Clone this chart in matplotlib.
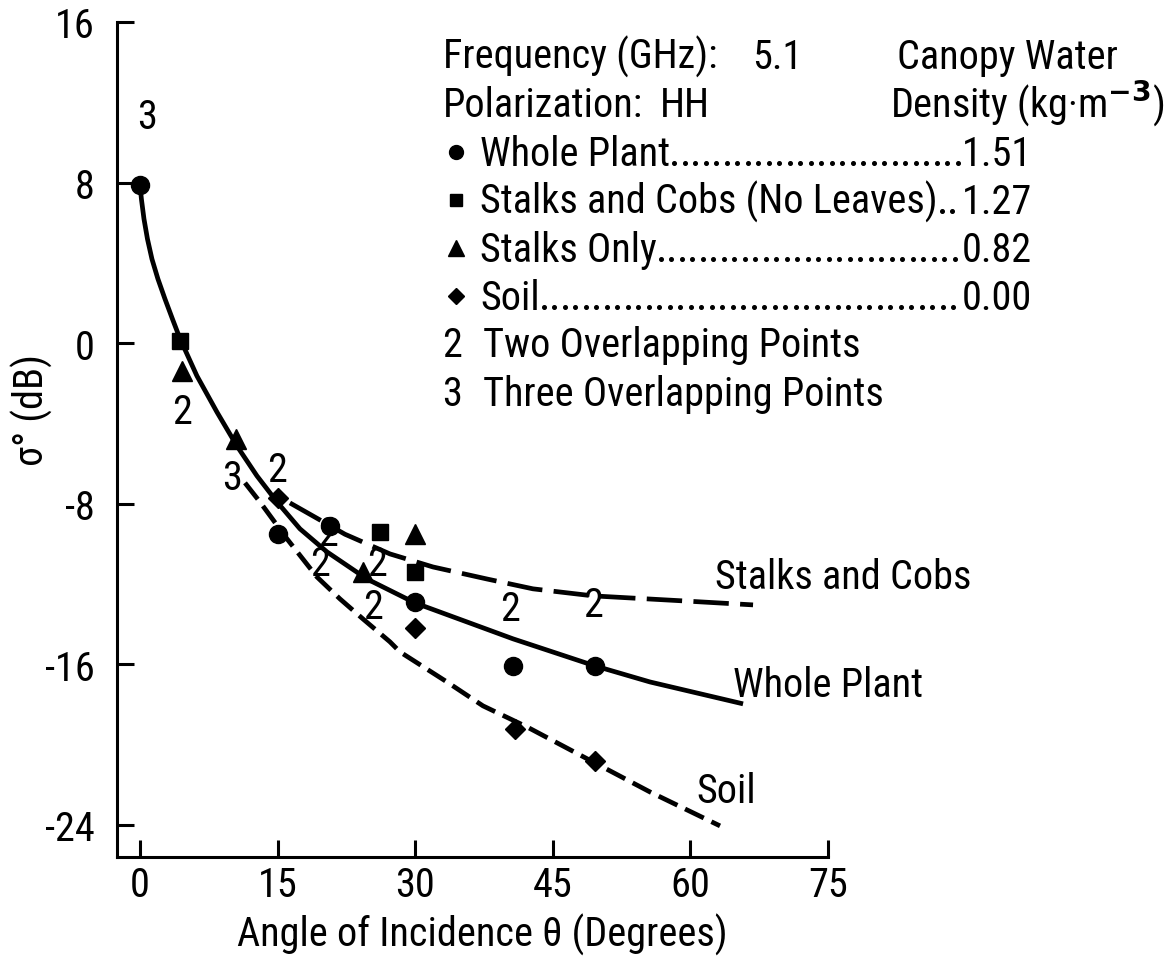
import matplotlib

matplotlib.use("Agg")
import matplotlib.pyplot as plt
import numpy as np
from matplotlib.lines import Line2D

plt.rcParams["font.family"] = ["Roboto Condensed", "IBM Plex Sans Condensed", "DejaVu Sans"]
plt.rcParams["axes.unicode_minus"] = False

# Measured backscatter, angle (deg) vs sigma0 (dB)
whole_x = [0, 15, 20.7, 30, 40.7, 49.6]
whole_y = [7.9, -9.5, -9.1, -12.9, -16.1, -16.1]
cobs_x = [4.4, 26.2, 30]
cobs_y = [0.1, -9.4, -11.4]
stalk_x = [4.6, 10.5, 24.3, 30]
stalk_y = [-1.4, -4.8, -11.4, -9.5]
soil_x = [15, 30, 40.9, 49.6]
soil_y = [-7.7, -14.2, -19.2, -20.8]

# Hand-fitted trend curves
whole_fit_x = [0, 0.16, 0.44, 0.82, 1.31, 1.96, 2.73, 3.54, 4.36, 6.21, 8.39, 10.57, 12.75,
               14.94, 17.44, 20.39, 24.75, 29.98, 35.65, 40.66, 49.6, 55.6, 65.74]
whole_fit_y = [7.93, 7.18, 6.19, 5.19, 4.19, 3.2, 2.2, 1.21, 0.23, -1.63, -3.43, -5.12, -6.61,
               -7.91, -9.25, -10.4, -11.75, -12.94, -13.89, -14.73, -16.08, -16.88, -17.97]
cobs_fit_x = [16.35, 19.63, 22.35, 24.75, 27.25, 31.94, 37.83, 42.84, 49.38, 55.27, 59.2, 66.83]
cobs_fit_y = [-7.96, -8.81, -9.52, -10.0, -10.5, -11.15, -11.75, -12.24, -12.59, -12.74, -12.84, -13.04]
soil_fit_x = [11.45, 13.08, 16.03, 19.3, 21.8, 24.31, 27.25, 28.34, 33.47, 37.39, 42.19, 49.38, 55.6, 63.23]
soil_fit_y = [-6.96, -7.91, -9.75, -11.65, -12.74, -13.74, -14.88, -15.38, -16.88, -18.07, -19.12,
              -20.86, -22.36, -24.05]

# Overlapping-point counts
overlap_x = [0.8, 4.6, 10.0, 15.0, 20.5, 19.6, 25.9, 25.4, 40.3, 49.4]
overlap_y = [11.3, -3.4, -6.7, -6.3, -9.5, -11.0, -11.0, -13.1, -13.2, -13.0]
overlap_n = ["3", "2", "3", "2", "2", "2", "2", "2", "2", "2"]

legend_names = ["Whole Plant", "Stalks and Cobs (No Leaves)", "Stalks Only", "Soil"]
legend_values = ["1.51", "1.27", "0.82", "0.00"]
legend_markers = ["o", "s", "^", "D"]

W, H = 1170, 970
FS = 29


def fx(px):
    return px / W


def fy(py):
    return 1 - py / H


fig = plt.figure(figsize=(W / 100, H / 100), dpi=100)
ax = fig.add_axes([fx(117), fy(858), (828 - 117) / W, (858 - 23) / H])
ax.set_xlim(-2.5, 75)
ax.set_ylim(-25.6, 16)
for s in ("top", "right"):
    ax.spines[s].set_visible(False)
for s in ("left", "bottom"):
    ax.spines[s].set_linewidth(2.2)
ax.set_xticks([0, 15, 30, 45, 60, 75])
ax.set_yticks([-24, -16, -8, 0, 8, 16])
ax.tick_params(direction="in", length=12, width=2.2, labelsize=FS)
ax.tick_params(axis="x", pad=6)
ax.tick_params(axis="y", pad=16)

lw = 3.4
ax.plot(whole_fit_x, whole_fit_y, color="k", lw=lw, solid_capstyle="butt")
ax.plot(cobs_fit_x, cobs_fit_y, color="k", lw=lw, dashes=(7.5, 2.4))
ax.plot(soil_fit_x, soil_fit_y, color="k", lw=lw, dashes=(4.4, 1.8))

ax.plot(whole_x, whole_y, "o", color="k", ms=13, clip_on=False)
ax.plot(cobs_x, cobs_y, "s", color="k", ms=11.5, clip_on=False)
ax.plot(stalk_x, stalk_y, "^", color="k", ms=14, clip_on=False)
ax.plot(soil_x, soil_y, "D", color="k", ms=10.5, clip_on=False)

for x, y, n in zip(overlap_x, overlap_y, overlap_n):
    ax.text(x, y, n, fontsize=FS, ha="center", va="center")

ax.text(62.7, -11.65, "Stalks and Cobs", fontsize=FS, va="center")
ax.text(64.65, -17.03, "Whole Plant", fontsize=FS, va="center")
ax.text(60.7, -22.3, "Soil", fontsize=FS, va="center")

fig.text(fx(32), fy(410), "σ° (dB)", rotation=90, fontsize=FS, ha="center", va="center")
fig.text(fx(482), fy(935), "Angle of Incidence θ (Degrees)", fontsize=FS, ha="center", va="center")

# Legend block
fig.text(fx(443), fy(69), "Frequency (GHz):", fontsize=FS, va="baseline")
fig.text(fx(752), fy(69), "5.1", fontsize=FS, va="baseline")
fig.text(fx(443), fy(117), "Polarization:", fontsize=FS, va="baseline")
fig.text(fx(660), fy(117), "HH", fontsize=FS, va="baseline")
fig.text(fx(897), fy(69), "Canopy Water", fontsize=FS, va="baseline")
fig.text(fx(890), fy(117), "Density (kg·m$^{\\mathbf{-3}}$)", fontsize=FS, va="baseline")

fig.canvas.draw()
rend = fig.canvas.get_renderer()
row_y = [166, 214, 262, 310]
for name, val, mk, by in zip(legend_names, legend_values, legend_markers, row_y):
    ms = {"o": 10, "s": 9, "^": 11, "D": 8}[mk]
    fig.add_artist(Line2D([fx(456)], [fy(by - 13)], transform=fig.transFigure,
                          marker=mk, ms=ms, color="k", ls="none"))
    t = fig.text(fx(480), fy(by), name, fontsize=FS, va="baseline")
    v = fig.text(fx(1032), fy(by), val, fontsize=FS, va="baseline", ha="right")
    x0 = t.get_window_extent(rend).x1 + 4
    x1 = v.get_window_extent(rend).x0 - 2
    dots = np.arange(x0, x1, 10.5)
    fig.add_artist(Line2D(dots / W, np.full(len(dots), fy(by - 2)), transform=fig.transFigure,
                          marker="o", ms=2.6, color="k", ls="none"))

fig.text(fx(452), fy(357), "2", fontsize=FS, va="baseline", ha="center")
fig.text(fx(483), fy(357), "Two Overlapping Points", fontsize=FS, va="baseline")
fig.text(fx(452), fy(406), "3", fontsize=FS, va="baseline", ha="center")
fig.text(fx(483), fy(406), "Three Overlapping Points", fontsize=FS, va="baseline")

fig.savefig("out.png", dpi=100)
